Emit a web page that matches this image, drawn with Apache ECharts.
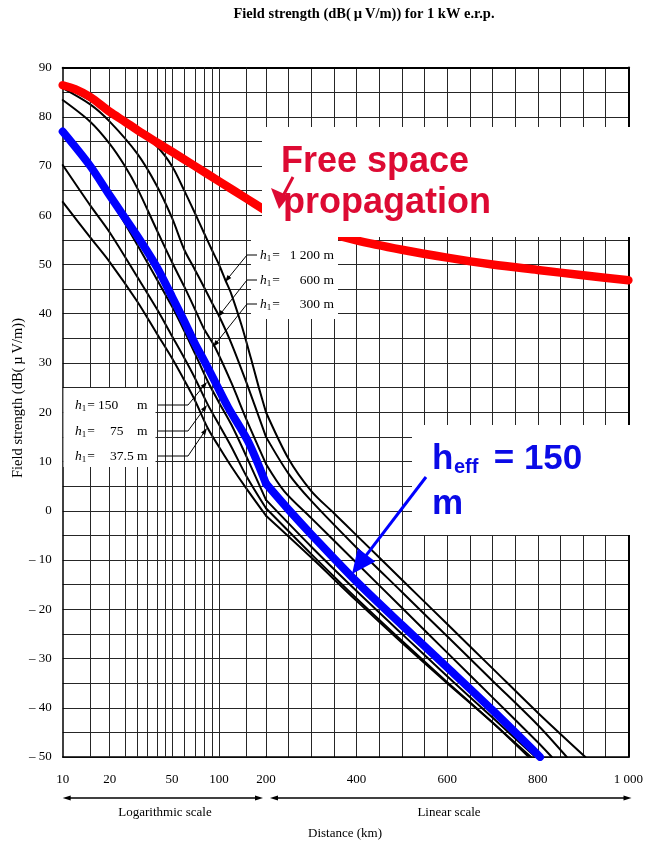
<!DOCTYPE html>
<html><head><meta charset="utf-8">
<script src="https://cdn.jsdelivr.net/npm/echarts@6/dist/echarts.min.js"></script>
<style>html,body{margin:0;padding:0;background:#fff}#c{width:646px;height:843px}</style>
</head><body><div id="c"></div>
<script>
// ---- data ----
const yMin = -50, yMax = 90, yStep = 5;
const logTickLabels = [10, 20, 50, 100];
const logGridLines = [15, 20, 25, 30, 35, 40, 45, 50, 60, 70, 80, 90, 100, 150];
const linTickLabels = [200, 400, 600, 800, 1000];

const dFree = [10, 12, 15, 20, 25, 30, 40, 50, 70, 100, 150, 200, 300, 400, 500, 600, 700, 800, 900, 1000];
const eFree = [86.4, 85.6, 84.0, 81.0, 79.0, 77.3, 74.8, 72.9, 70.0, 66.9, 63.4, 60.9, 57.4, 54.9, 53.0, 51.4, 50.0, 48.9, 47.8, 46.8];

const d1200 = [10, 15, 20, 30, 40, 50, 60, 70, 80, 90, 100, 110, 120, 140, 160, 180, 200, 250, 300, 350, 400, 500, 600, 700, 800, 905];
const e1200 = [86.3, 83.3, 80.8, 77.2, 74.0, 70.0, 65.0, 60.5, 56.5, 53.0, 50.0, 46.8, 44.0, 37.5, 31.0, 25.0, 20.0, 10.5, 4.0, -0.5, -5.0, -14.0, -23.0, -32.0, -41.0, -50];

const d600 = [10, 15, 20, 30, 40, 50, 60, 70, 80, 90, 100, 120, 150, 200, 250, 300, 400, 500, 600, 700, 800, 864];
const e600 = [85.8, 82.5, 79.0, 72.5, 66.0, 59.5, 53.0, 49.0, 45.5, 42.3, 39.6, 34.0, 26.0, 15.0, 7.5, 2.0, -7.5, -16.5, -25.5, -34.5, -43.5, -50];

const d300 = [10, 15, 20, 25, 30, 40, 50, 60, 70, 80, 94, 120, 150, 200, 240, 300, 400, 500, 600, 700, 800, 831];
const e300 = [83.4, 79.0, 74.5, 70.0, 65.5, 57.0, 50.5, 45.5, 41.0, 37.0, 33.3, 26.0, 18.5, 9.5, 4.0, -1.5, -10.6, -19.7, -28.8, -37.9, -47.0, -50];

const d150 = [10, 15, 20, 30, 40, 50, 60, 70, 85, 100, 120, 150, 200, 300, 400, 500, 600, 700, 795];
const e150 = [77.0, 69.5, 63.5, 54.0, 47.0, 41.5, 36.5, 32.0, 26.2, 22.0, 17.5, 11.0, 2.2, -7.3, -16.3, -25.0, -33.6, -42.0, -50];

const d75 = [10, 15, 20, 30, 40, 50, 60, 70, 85, 100, 120, 150, 200, 300, 400, 500, 600, 700, 785];
const e75 = [70.2, 62.0, 56.5, 47.5, 41.0, 35.5, 31.0, 27.0, 21.5, 17.5, 13.0, 7.0, 0.5, -8.8, -17.8, -26.4, -34.8, -43.0, -50];

const d37 = [10, 15, 20, 30, 40, 50, 60, 70, 85, 100, 120, 150, 200, 300, 400, 500, 600, 700, 780];
const e37 = [62.7, 55.5, 50.5, 42.5, 36.0, 31.0, 26.5, 22.5, 16.7, 13.0, 9.0, 4.5, -1.0, -9.5, -18.3, -26.8, -35.0, -43.0, -50];

const dBlue = [10, 15, 20, 30, 40, 50, 60, 70, 80, 94, 114, 154, 200, 250, 300, 400, 500, 600, 700, 805];
const eBlue = [77.0, 70.0, 64.0, 55.8, 49.5, 43.5, 38.5, 34.0, 30.6, 26.3, 21.1, 14.0, 5.5, 0.2, -4.8, -14.4, -23.2, -31.8, -40.5, -50];

const h1RightLabels = ['1 200', '600', '300'];
const h1LeftLabels = ['150', '75', '37.5'];

// ---- layout ----
const GL = 62.7, GM = 266, GR = 631.5, GT = 67.5, GB = 757;
const SERIF = '"Liberation Serif", "Times New Roman", serif';
const SANS = '"Liberation Sans", Arial, sans-serif';
const GRID = '#262626';

function split(dist, vals) {
  const left = [], right = [];
  dist.forEach((d, i) => {
    if (d <= 200) left.push([d, vals[i]]);
    if (d >= 200) right.push([d, vals[i]]);
  });
  return [left, right];
}
function curve(name, dist, vals, color, width, z) {
  const [l, r] = split(dist, vals);
  const base = { type: 'line', name, symbol: 'none', smooth: 0.3, silent: true, z,
    lineStyle: { color, width, cap: 'round', join: 'round' } };
  return [
    Object.assign({}, base, { xAxisIndex: 0, yAxisIndex: 0, data: l }),
    Object.assign({}, base, { xAxisIndex: 1, yAxisIndex: 1, data: r })
  ];
}

const series = [
  { type: 'line', xAxisIndex: 0, yAxisIndex: 0, data: [], z: 1, silent: true,
    markLine: { silent: true, symbol: 'none', label: { show: false },
      lineStyle: { color: GRID, width: 1, type: 'solid' }, animation: false,
      data: logGridLines.map(v => ({ xAxis: v })) } },
  ...curve('h1=37.5', d37, e37, '#000', 2, 3),
  ...curve('h1=75', d75, e75, '#000', 2, 3),
  ...curve('h1=150', d150, e150, '#000', 2, 3),
  ...curve('h1=300', d300, e300, '#000', 2, 3),
  ...curve('h1=600', d600, e600, '#000', 2, 3),
  ...curve('h1=1200', d1200, e1200, '#000', 2, 3),
  ...curve('heff=150', dBlue, eBlue, '#0000ff', 8, 5),
  ...curve('free space', dFree, eFree, '#ff0000', 8.5, 6)
];

// ---- graphics ----
const G = [];
function txt(x, y, text, font, extra, rot) {
  G.push({ type: 'text', x, y, z: 30, silent: true, rotation: rot || 0,
    style: Object.assign({ text, font, fill: '#000', align: 'left', verticalAlign: 'middle' }, extra || {}) });
}
function box(x, y, w, h) {
  G.push({ type: 'rect', z: 20, silent: true, shape: { x, y, width: w, height: h }, style: { fill: '#fff' } });
}
function head(pts, color) {
  G.push({ type: 'polygon', z: 31, silent: true, shape: { points: pts }, style: { fill: color } });
}
function arrow(pts, color, lw, hl, hw) {
  const n = pts.length, [x2, y2] = pts[n - 1], [x1, y1] = pts[n - 2];
  const L = Math.hypot(x2 - x1, y2 - y1), ux = (x2 - x1) / L, uy = (y2 - y1) / L;
  const bx = x2 - ux * hl, by = y2 - uy * hl;
  const line = pts.slice(0, n - 1).concat([[bx + ux * 1, by + uy * 1]]);
  G.push({ type: 'polyline', z: 31, silent: true, shape: { points: line }, style: { stroke: color, lineWidth: lw, fill: null } });
  head([[x2, y2], [bx - uy * hw, by + ux * hw], [bx + uy * hw, by - ux * hw]], color);
}

// white label boxes
box(262, 127, 384, 110);
box(251, 237, 87, 82);
box(63.5, 388, 92, 79);
box(412, 425, 234, 110);

// title and axis texts
txt(364, 14, 'Field strength (dB(\u2009\u00b5\u2009V/m)) for 1 kW e.r.p.', 'bold 14.5px ' + SERIF, { align: 'center' });
txt(18, 398, 'Field strength (dB(\u2009\u00b5\u2009V/m))', '14.5px ' + SERIF, { align: 'center' }, Math.PI / 2);
txt(345, 834, 'Distance (km)', '13px ' + SERIF, { align: 'center' });
txt(165, 813, 'Logarithmic scale', '13px ' + SERIF, { align: 'center' });
txt(449, 813, 'Linear scale', '13px ' + SERIF, { align: 'center' });
// scale arrows
arrow([[160, 798], [GL, 798]], '#000', 1.3, 8, 2.6);
arrow([[160, 798], [GM - 3, 798]], '#000', 1.3, 8, 2.6);
arrow([[450, 798], [GM + 4, 798]], '#000', 1.3, 8, 2.6);
arrow([[450, 798], [GR, 798]], '#000', 1.3, 8, 2.6);

// h1 labels (right box)
const rich = {
  i: { fontStyle: 'italic', fontSize: 13.5, fontFamily: SERIF },
  s: { fontSize: 9, fontFamily: SERIF, padding: [7, 1, 0, 0] },
  n: { fontSize: 13.5, fontFamily: SERIF } };
const rRows = [255, 280, 304];
const rTips = [[225, 282], [218, 317], [213, 347]];
h1RightLabels.forEach((lab, i) => {
  txt(260, rRows[i], '{i|h}{s|1}{n|=}', '13.5px ' + SERIF, { rich });
  txt(334, rRows[i], lab + ' m', '13.5px ' + SERIF, { align: 'right' });
  arrow([[257, rRows[i]], [247, rRows[i]], rTips[i]], '#000', 1, 7, 2.4);
});
// h1 labels (left box)
const lRows = [405, 431, 456];
const lNumX = [98, 110, 110];
const lTips = [[207, 382], [207, 405], [207, 428]];
h1LeftLabels.forEach((lab, i) => {
  txt(75, lRows[i], '{i|h}{s|1}{n|=}', '13.5px ' + SERIF, { rich });
  txt(lNumX[i], lRows[i], lab, '13.5px ' + SERIF);
  txt(137, lRows[i], 'm', '13.5px ' + SERIF);
  arrow([[158, lRows[i]], [188, lRows[i]], lTips[i]], '#000', 1, 7, 2.4);
});

// Free space annotation
const RED_T = '#dd0a33';
txt(281, 162, 'Free space', 'bold 36px ' + SANS, { fill: RED_T });
txt(283, 203, 'propagation', 'bold 36px ' + SANS, { fill: RED_T });
G.push({ type: 'line', z: 31, silent: true, shape: { x1: 293, y1: 177, x2: 283, y2: 196 }, style: { stroke: RED_T, lineWidth: 3 } });
head([[279, 209], [271, 188], [289, 196]], RED_T);

// h_eff annotation
const BLUE_T = '#0a0ae6';
txt(432, 459, 'h', 'bold 35px ' + SANS, { fill: BLUE_T });
txt(454, 467, 'eff', 'bold 20px ' + SANS, { fill: BLUE_T });
txt(484, 459, ' = 150', 'bold 35px ' + SANS, { fill: BLUE_T });
txt(432, 504, 'm', 'bold 35px ' + SANS, { fill: BLUE_T });
arrow([[426, 477], [352, 574]], '#0000ff', 3, 24, 11);

// ---- chart ----
const chart = echarts.init(document.getElementById('c'), null, { renderer: 'canvas' });
const labelFont = { color: '#000', fontFamily: SERIF, fontSize: 13 };
const fmtKm = v => (v >= 1000 ? String(v).slice(0, -3) + ' ' + String(v).slice(-3) : String(v));
const fmtDb = v => (v % 10 !== 0 ? '' : (v < 0 ? '\u2013 ' + (-v) : String(v)));

chart.setOption({
  animation: false,
  backgroundColor: '#fff',
  grid: [
    { left: GL, top: GT, width: GM - GL, height: GB - GT },
    { left: GM, top: GT, width: GR - GM, height: GB - GT }
  ],
  xAxis: [
    { gridIndex: 0, type: 'log', logBase: 10, min: 10, max: 200, position: 'bottom',
      axisLine: { show: true, onZero: false, lineStyle: { color: '#000', width: 1.5 } },
      axisTick: { show: false }, splitLine: { show: false }, minorSplitLine: { show: false },
      axisLabel: Object.assign({ customValues: logTickLabels, margin: 16, formatter: fmtKm }, labelFont) },
    { gridIndex: 1, type: 'value', min: 200, max: 1000, interval: 50, position: 'bottom',
      axisLine: { show: true, onZero: false, lineStyle: { color: '#000', width: 1.5 } },
      axisTick: { show: false },
      splitLine: { show: true, lineStyle: { color: GRID, width: 1 } },
      axisLabel: Object.assign({ customValues: linTickLabels, margin: 16, formatter: fmtKm, showMinLabel: true, showMaxLabel: true }, labelFont) },
    { gridIndex: 0, type: 'value', min: 0, max: 1, position: 'top',
      axisLine: { show: true, onZero: false, lineStyle: { color: '#000', width: 2 } },
      axisTick: { show: false }, axisLabel: { show: false }, splitLine: { show: false } },
    { gridIndex: 1, type: 'value', min: 0, max: 1, position: 'top',
      axisLine: { show: true, onZero: false, lineStyle: { color: '#000', width: 2 } },
      axisTick: { show: false }, axisLabel: { show: false }, splitLine: { show: false } }
  ],
  yAxis: [
    { gridIndex: 0, type: 'value', min: yMin, max: yMax, interval: yStep,
      axisLine: { show: true, onZero: false, lineStyle: { color: '#000', width: 1.5 } },
      axisTick: { show: false },
      splitLine: { show: true, lineStyle: { color: GRID, width: 1 } },
      axisLabel: Object.assign({ formatter: fmtDb, margin: 11 }, labelFont) },
    { gridIndex: 1, type: 'value', min: yMin, max: yMax, interval: yStep, position: 'right',
      axisLine: { show: true, onZero: false, lineStyle: { color: '#000', width: 2 } },
      axisTick: { show: false }, axisLabel: { show: false },
      splitLine: { show: true, lineStyle: { color: GRID, width: 1 } } }
  ],
  series,
  graphic: { elements: G }
});
</script>
</body></html>
